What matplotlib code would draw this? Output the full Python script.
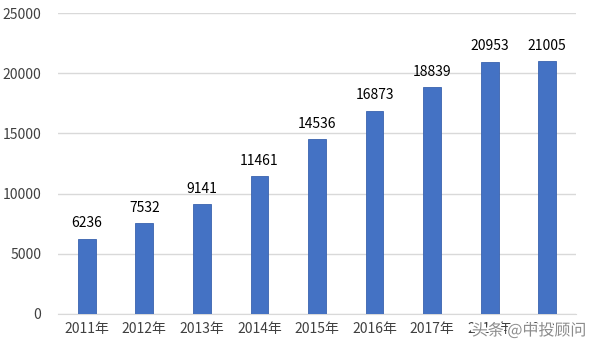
import matplotlib.pyplot as plt
import matplotlib.patheffects as pe

plt.rcParams['font.family'] = ['Noto Sans CJK SC', 'DejaVu Sans']

years = ['2011年', '2012年', '2013年', '2014年', '2015年', '2016年', '2017年', '2018年', '2019年']
values = [6236, 7532, 9141, 11461, 14536, 16873, 18839, 20953, 21005]

fig = plt.figure(figsize=(5.92, 3.52), dpi=100)
ax = fig.add_axes([0.098, 0.108, 0.875, 0.855])

x = range(len(years))
ax.bar(x, values, width=0.31, color='#4472C4', edgecolor='#3A63AE', linewidth=0.6, zorder=3)
for i, v in zip(x, values):
    ax.text(i, v + 700, str(v), ha='center', va='bottom', fontsize=10, color='#000000')

ax.set_xlim(-0.5, len(years) - 0.5)
ax.set_ylim(0, 25000)
ax.set_yticks(range(0, 25001, 5000))
ax.set_xticks(list(x))
ax.set_xticklabels(years)
ax.grid(axis='y', color='#D9D9D9', linewidth=1, zorder=0)
for s in ['top', 'right', 'left']:
    ax.spines[s].set_visible(False)
ax.spines['bottom'].set_color('#D9D9D9')
ax.tick_params(axis='both', length=0, labelsize=10, colors='#404040')
ax.tick_params(axis='y', pad=12)
ax.tick_params(axis='x', pad=6)

# 水印
fig.text(0.797, 0.06, '头条 @中投顾问', fontsize=11.5, color='#8C8C8C', ha='left', va='center',
         path_effects=[pe.withStroke(linewidth=2.5, foreground='white')])

plt.savefig('out.png', dpi=100)
